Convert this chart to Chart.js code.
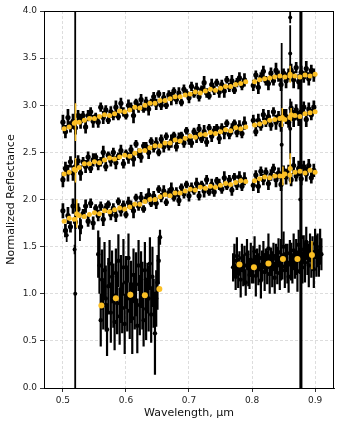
<!DOCTYPE html>
<html>
<head>
<meta charset="utf-8">
<script src="https://cdn.jsdelivr.net/npm/chart.js@4.4.1/dist/chart.umd.min.js"></script>
<style>
  body { margin: 0; background: #fff; }
</style>
</head>
<body>
<canvas id="spec" width="341" height="428"></canvas>
<script>
// wavelength grid of the three offset spectra (um)
const wl = [
  0.500,0.504,0.508,0.512,0.516,0.520,0.524,0.528,0.532,0.536,
  0.540,0.544,0.548,0.552,0.556,0.560,0.564,0.568,0.572,0.576,
  0.580,0.584,0.588,0.592,0.596,0.600,0.604,0.608,0.612,0.616,
  0.620,0.624,0.628,0.632,0.636,0.640,0.644,0.648,0.652,0.656,
  0.660,0.664,0.668,0.672,0.676,0.680,0.684,0.688,0.692,0.696,
  0.700,0.704,0.708,0.712,0.716,0.720,0.724,0.728,0.732,0.736,
  0.740,0.744,0.748,0.752,0.756,0.760,0.764,0.768,0.772,0.776,
  0.780,0.784,0.788,
  0.802,0.806,0.810,0.814,0.818,0.822,0.826,0.830,0.834,0.838,
  0.842,0.846,0.850,0.854,0.858,0.862,0.866,0.870,0.874,0.878,
  0.882,0.886,0.890,0.894,0.898
];
const specTop = [
  2.82,2.72,2.87,2.77,2.83,2.76,2.89,2.83,2.89,2.77,
  2.89,2.93,2.83,2.88,2.82,2.98,2.87,2.95,2.84,2.93,
  2.89,2.98,2.88,3.02,2.93,2.89,3.00,2.98,2.89,3.03,
  2.97,3.06,2.96,3.04,2.96,3.03,3.09,3.01,3.12,3.00,
  3.08,3.00,3.11,3.07,3.15,3.06,3.13,3.03,3.17,3.13,
  3.08,3.20,3.12,3.18,3.09,3.17,3.24,3.13,3.10,3.22,
  3.16,3.24,3.14,3.22,3.15,3.27,3.19,3.26,3.16,3.24,
  3.29,3.21,3.27,
  3.21,3.32,3.19,3.30,3.36,3.26,3.23,3.34,3.26,3.37,
  3.31,3.22,3.34,3.26,3.33,3.37,3.27,3.40,3.25,3.35,
  3.30,3.39,3.28,3.37,3.32
];
const specMid = [
  2.21,2.33,2.28,2.40,2.28,2.35,2.41,2.28,2.40,2.35,
  2.45,2.33,2.42,2.45,2.37,2.40,2.50,2.35,2.47,2.41,
  2.50,2.39,2.46,2.52,2.38,2.49,2.44,2.53,2.43,2.59,
  2.49,2.45,2.57,2.56,2.50,2.62,2.55,2.60,2.50,2.64,
  2.56,2.67,2.57,2.62,2.68,2.56,2.65,2.68,2.60,2.73,
  2.64,2.60,2.72,2.66,2.75,2.64,2.72,2.61,2.76,2.67,
  2.73,2.76,2.65,2.76,2.71,2.81,2.69,2.75,2.81,2.71,
  2.78,2.70,2.81,
  2.84,2.72,2.84,2.78,2.90,2.82,2.88,2.79,2.93,2.82,
  2.88,2.79,2.91,2.88,2.82,2.97,2.86,2.95,2.86,2.93,
  2.98,2.85,2.96,2.90,2.98
];
const specLow = [
  1.88,1.67,1.83,1.71,1.93,1.76,1.90,1.71,1.85,1.93,
  1.77,1.96,1.75,1.91,1.83,1.93,1.79,1.91,1.95,1.84,
  1.91,1.83,1.98,1.88,1.94,1.84,1.97,1.94,1.88,2.02,
  1.93,2.02,1.90,2.01,2.05,1.96,2.04,1.96,2.11,2.02,
  2.09,1.97,2.07,2.11,2.02,2.08,1.99,2.13,2.06,2.16,
  2.04,2.13,2.09,2.17,2.04,2.16,2.09,2.21,2.08,2.16,
  2.08,2.20,2.16,2.11,2.23,2.14,2.21,2.10,2.24,2.15,
  2.24,2.14,2.22,
  2.15,2.26,2.14,2.30,2.21,2.29,2.17,2.26,2.33,2.21,
  2.28,2.16,2.31,2.24,2.31,2.21,2.36,2.25,2.33,2.22,
  2.35,2.27,2.36,2.23,2.31
];
const specErr = [
  0.08,0.07,0.09,0.06,0.08,0.07,0.06,0.08,0.05,0.07,
  0.06,0.05,0.07,0.04,0.06,0.05,0.07,0.05,0.04,0.06,
  0.05,0.07,0.04,0.06,0.05,0.04,0.06,0.05,0.08,0.04,
  0.05,0.06,0.04,0.05,0.07,0.04,0.05,0.06,0.04,0.05,
  0.06,0.04,0.05,0.07,0.04,0.05,0.06,0.04,0.05,0.04,
  0.06,0.05,0.04,0.06,0.05,0.04,0.07,0.05,0.04,0.06,
  0.05,0.04,0.06,0.05,0.07,0.04,0.05,0.06,0.04,0.05,
  0.06,0.05,0.07,
  0.06,0.05,0.07,0.05,0.06,0.05,0.07,0.06,0.05,0.08,
  0.06,0.07,0.05,0.08,0.06,0.07,0.09,0.06,0.08,0.07,
  0.06,0.08,0.07,0.06,0.07
];

// binned means (orange)
const binWl = [
  0.502,0.510,0.518,0.526,0.534,0.542,0.550,0.558,0.566,0.574,
  0.582,0.590,0.598,0.606,0.614,0.622,0.630,0.638,0.646,0.654,
  0.662,0.670,0.678,0.686,0.694,0.702,0.710,0.718,0.726,0.734,
  0.742,0.750,0.758,0.766,0.774,0.782,0.790,
  0.804,0.812,0.820,0.828,0.836,0.844,0.852,0.860,0.868,0.876,
  0.884,0.892,0.900
];
const binTop = [
  2.75,2.77,2.81,2.82,2.84,2.86,2.86,2.88,2.90,2.89,
  2.91,2.94,2.93,2.95,2.98,2.97,3.00,3.02,3.02,3.05,
  3.05,3.07,3.09,3.09,3.11,3.12,3.14,3.13,3.15,3.17,
  3.16,3.18,3.20,3.20,3.22,3.23,3.25,
  3.25,3.27,3.28,3.29,3.30,3.31,3.30,3.31,3.31,3.30,
  3.32,3.31,3.33
];
const binMid = [
  2.27,2.29,2.32,2.34,2.38,2.38,2.40,2.39,2.42,2.44,
  2.43,2.45,2.47,2.46,2.49,2.52,2.52,2.55,2.57,2.57,
  2.60,2.60,2.63,2.62,2.65,2.67,2.66,2.69,2.69,2.71,
  2.70,2.72,2.74,2.73,2.76,2.75,2.77,
  2.79,2.80,2.82,2.84,2.85,2.86,2.85,2.87,2.89,2.88,
  2.91,2.92,2.93
];
const binLow = [
  1.77,1.80,1.79,1.83,1.82,1.84,1.86,1.85,1.88,1.87,
  1.89,1.91,1.90,1.92,1.95,1.95,1.98,2.00,2.00,2.03,
  2.05,2.04,2.07,2.07,2.09,2.11,2.10,2.13,2.12,2.14,
  2.13,2.15,2.17,2.16,2.18,2.20,2.19,
  2.20,2.22,2.24,2.23,2.25,2.25,2.27,2.26,2.29,2.30,
  2.28,2.31,2.29
];
// binned points with visible error bars
const bigBinWl  = [0.520, 0.520, 0.522, 0.8605, 0.848, 0.862, 0.849, 0.8605];
const bigBinVal = [2.82, 2.31, 1.85, 3.33, 2.87, 2.90, 2.25, 2.33];
const bigBinErr = [0.20, 0.13, 0.15, 0.09, 0.10, 0.07, 0.10, 0.16];

// the noisy lower spectrum, two pieces
const faintWlA = [
  0.556,0.558,0.560,0.562,0.564,0.566,0.568,0.570,0.572,0.574,
  0.576,0.578,0.580,0.582,0.584,0.586,0.588,0.590,0.592,0.594,
  0.596,0.598,0.600,0.602,0.604,0.606,0.608,0.610,0.612,0.614,
  0.616,0.618,0.620,0.622,0.624,0.626,0.628,0.630,0.632,0.634,
  0.636,0.638,0.640,0.642,0.644,0.646,0.648,0.650,0.652,0.654
];
const faintA = [
  1.42,1.30,0.72,1.15,0.88,1.25,0.95,0.62,1.08,1.32,
  0.80,1.18,0.98,0.70,1.22,0.90,1.35,0.76,1.05,0.85,
  1.28,0.68,1.12,0.95,1.38,0.82,1.02,0.74,1.20,0.92,
  1.10,0.66,1.30,0.88,1.15,0.98,0.72,1.25,0.84,1.06,
  0.95,1.32,0.78,1.18,0.90,0.58,0.95,1.12,1.35,1.60
];
const faintErrA = [
  0.25,0.30,0.28,0.32,0.26,0.30,0.35,0.28,0.30,0.25,
  0.32,0.28,0.34,0.30,0.26,0.33,0.28,0.30,0.36,0.27,
  0.30,0.32,0.28,0.35,0.26,0.30,0.33,0.38,0.28,0.30,
  0.34,0.29,0.27,0.32,0.30,0.36,0.28,0.30,0.33,0.27,
  0.35,0.28,0.30,0.32,0.26,0.44,0.30,0.29,0.25,0.08
];
const faintWlB = [
  0.770,0.772,0.774,0.776,0.778,0.780,0.782,0.784,0.786,0.788,
  0.790,0.792,0.794,0.796,0.798,0.800,0.802,0.804,0.806,0.808,
  0.810,0.812,0.814,0.816,0.818,0.820,0.822,0.824,0.826,0.828,
  0.830,0.832,0.834,0.836,0.838,0.840,0.842,0.844,0.846,0.848,
  0.850,0.852,0.854,0.856,0.858,0.860,0.862,0.864,0.866,0.868,
  0.870,0.872,0.874,0.876,0.878,0.880,0.882,0.884,0.886,0.888,
  0.890,0.892,0.894,0.896,0.898,0.900,0.902,0.904,0.906,0.908,
  0.910
];
const faintB = [
  1.28,1.35,1.18,1.40,1.22,1.32,1.15,1.38,1.25,1.30,
  1.12,1.42,1.27,1.20,1.36,1.24,1.31,1.45,1.19,1.33,
  1.26,1.38,1.14,1.30,1.41,1.23,1.35,1.28,1.48,1.21,
  1.34,1.26,1.40,1.17,1.37,1.30,1.44,1.22,1.36,1.29,
  1.50,1.25,1.38,1.32,1.18,1.43,1.34,1.27,1.46,1.31,
  1.39,1.24,1.52,1.35,1.42,1.28,1.47,1.33,1.55,1.38,
  1.30,1.49,1.36,1.44,1.26,1.53,1.40,1.46,1.33,1.50,
  1.42
];
const faintErrB = [
  0.15,0.18,0.14,0.20,0.16,0.13,0.19,0.15,0.17,0.21,
  0.14,0.16,0.19,0.15,0.18,0.13,0.20,0.16,0.22,0.15,
  0.17,0.14,0.19,0.16,0.15,0.20,0.13,0.18,0.16,0.21,
  0.15,0.19,0.14,0.17,0.16,0.20,0.15,0.18,0.22,0.14,
  0.16,0.19,0.15,0.21,0.17,0.14,0.20,0.16,0.18,0.15,
  0.19,0.22,0.16,0.14,0.20,0.17,0.15,0.21,0.16,0.18,
  0.23,0.15,0.19,0.17,0.20,0.16,0.22,0.18,0.15,0.19,
  0.17
];
const faintBinWl  = [0.561, 0.584, 0.607, 0.630, 0.653, 0.780, 0.803, 0.826, 0.849, 0.872, 0.895];
const faintBin    = [0.875, 0.953, 0.990, 0.985, 1.050, 1.310, 1.280, 1.320, 1.370, 1.370, 1.410];
const faintBinErr = [0.02, 0.02, 0.03, 0.02, 0.02, 0.02, 0.02, 0.02, 0.02, 0.02, 0.15];

// bad pixels with huge error bars
const spikeWl  = [0.5195, 0.5185, 0.506, 0.527, 0.847, 0.8605, 0.8605, 0.8605, 0.8765, 0.8785];
const spikeVal = [1.00, 1.47, 1.62, 1.70, 2.58, 3.93, 3.55, 2.75, 2.00, 1.60];
const spikeErr = [3.40, 0.05, 0.07, 0.14, 1.08, 0.06, 0.30, 0.32, 2.30, 2.60];

const xTicks = [0.5, 0.6, 0.7, 0.8, 0.9];
const yTicks = [0.0, 0.5, 1.0, 1.5, 2.0, 2.5, 3.0, 3.5, 4.0];

// ------------------------------------------------------------
const orange = '#fbbf24';
const pts = (xs, ys) => xs.map((x, i) => ({ x: x, y: ys[i] }));

function blackSet(xs, ys, errs, r, w) {
    return {
        data: pts(xs, ys), errs: errs, errColor: '#000', errWidth: w,
        backgroundColor: '#000', pointRadius: r, pointBorderWidth: 0, order: 2
    };
}
function orangeSet(xs, ys, errs, r) {
    return {
        data: pts(xs, ys), errs: errs, errColor: orange, errWidth: 1.5,
        backgroundColor: orange, pointRadius: r, pointBorderWidth: 0, order: 1
    };
}

// error bars drawn right before each dataset's points
const errorBars = {
    id: 'errorBars',
    beforeDatasetDraw(chart, args) {
        const ds = chart.data.datasets[args.index];
        if (!ds.errs) return;
        const ctx = chart.ctx, a = chart.chartArea;
        const xs = chart.scales.x, ys = chart.scales.y;
        ctx.save();
        ctx.beginPath();
        ctx.rect(a.left, a.top, a.right - a.left, a.bottom - a.top);
        ctx.clip();
        ctx.strokeStyle = ds.errColor;
        ctx.lineWidth = ds.errWidth;
        ctx.beginPath();
        ds.data.forEach((p, i) => {
            const px = xs.getPixelForValue(p.x);
            ctx.moveTo(px, ys.getPixelForValue(p.y - ds.errs[i]));
            ctx.lineTo(px, ys.getPixelForValue(p.y + ds.errs[i]));
        });
        ctx.stroke();
        ctx.restore();
    }
};

// closed box round the plot
const frame = {
    id: 'frame',
    afterDraw(chart) {
        const ctx = chart.ctx, a = chart.chartArea;
        ctx.save();
        ctx.strokeStyle = '#000';
        ctx.lineWidth = 1;
        ctx.strokeRect(a.left + 0.5, a.top + 0.5, a.right - a.left - 1, a.bottom - a.top);
        ctx.restore();
    }
};

const font = "'DejaVu Sans', sans-serif";

new Chart(document.getElementById('spec').getContext('2d'), {
    type: 'scatter',
    data: {
        datasets: [
            blackSet(wl, specTop, specErr, 2.6, 2.7),
            blackSet(wl, specMid, specErr, 2.6, 2.7),
            blackSet(wl, specLow, specErr, 2.6, 2.7),
            blackSet(faintWlA, faintA, faintErrA, 2.2, 2.2),
            blackSet(faintWlB, faintB, faintErrB, 2.2, 2.2),
            blackSet(spikeWl, spikeVal, spikeErr, 2, 1.8),
            orangeSet(binWl, binTop, binTop.map(() => 0), 2.5),
            orangeSet(binWl, binMid, binMid.map(() => 0), 2.5),
            orangeSet(binWl, binLow, binLow.map(() => 0), 2.5),
            orangeSet(bigBinWl, bigBinVal, bigBinErr, 2.5),
            orangeSet(faintBinWl, faintBin, faintBinErr, 3)
        ]
    },
    options: {
        responsive: false,
        animation: false,
        devicePixelRatio: 1,
        layout: { padding: { top: 11, right: 7, left: 0, bottom: 0 } },
        plugins: { legend: { display: false }, tooltip: { enabled: false } },
        scales: {
            x: {
                type: 'linear', min: 0.47, max: 0.93,
                afterBuildTicks: (axis) => { axis.ticks = xTicks.map(v => ({ value: v })); },
                afterFit: (axis) => { axis.height = 40; },
                ticks: {
                    callback: (v) => v.toFixed(1),
                    color: '#222', font: { family: font, size: 9 }, padding: 3, maxRotation: 0
                },
                grid: { color: '#d4d4d4', lineWidth: 0.8, tickColor: '#000', tickLength: 4, tickBorderDash: [] },
                border: { display: true, color: '#000', width: 1, dash: [3, 2] },
                title: {
                    display: true, text: 'Wavelength, μm', color: '#111',
                    font: { family: font, size: 11 }, padding: { top: 0, bottom: 8 }
                }
            },
            y: {
                type: 'linear', min: 0, max: 4,
                afterBuildTicks: (axis) => { axis.ticks = yTicks.map(v => ({ value: v })); },
                afterFit: (axis) => { axis.width = 44; },
                ticks: {
                    callback: (v) => v.toFixed(1),
                    color: '#222', font: { family: font, size: 9 }, padding: 3
                },
                grid: { color: '#d4d4d4', lineWidth: 0.8, tickColor: '#000', tickLength: 4, tickBorderDash: [] },
                border: { display: true, color: '#000', width: 1, dash: [3, 2] },
                title: {
                    display: true, text: 'Normalized Reflectance', color: '#111',
                    font: { family: font, size: 11 }, padding: { top: 5, bottom: 0 }
                }
            }
        }
    },
    plugins: [errorBars, frame]
});
</script>
</body>
</html>
